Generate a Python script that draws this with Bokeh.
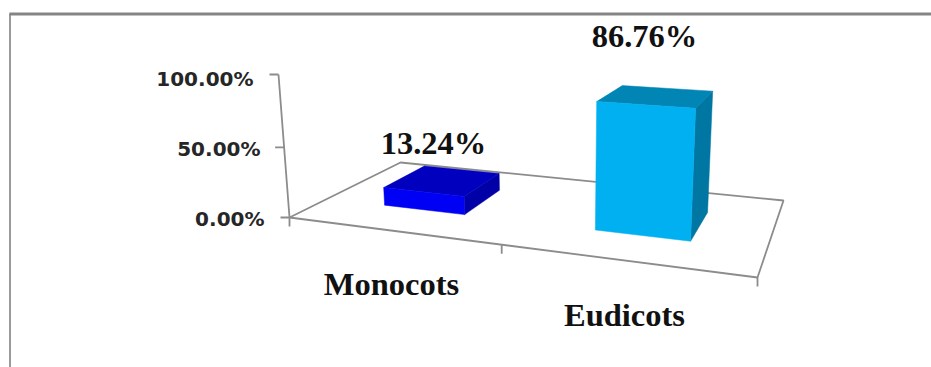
from bokeh.embed import file_html
from bokeh.models import ColumnDataSource, Range1d
from bokeh.plotting import figure
from bokeh.resources import INLINE
from bokeh.core.properties import value

# Chart content
categories = ["Monocots", "Eudicots"]
percentages = [13.24, 86.76]
axis_values = [0, 50, 100]
front_colors = ["#0000F5", "#00B0F0"]
top_colors = ["#0000BE", "#0085B5"]
side_colors = ["#0000A6", "#0076A3"]

# Page and scene layout, in screen pixels
WIDTH, HEIGHT = 931, 367
FLOOR = [(289, 217), (757, 277), (783, 200), (400, 162)]  # front-left, front-right, back-right, back-left
VERTICAL_VANISH = (559, 3726)
HEIGHT_GAIN = -0.0003916
BAR_WIDTH = 0.2
BAR_DEPTH = (0.30, 0.70)
VALUE_LABEL_POS = [(433, 142), (644, 35)]
CATEGORY_LABEL_POS = [(391, 283), (624, 314)]
AXIS_LABEL_RIGHT = {0: 264, 50: 260, 100: 253}
AXIS_LABEL_Y = {0: 218, 50: 148, 100: 78}
LINE_GREY = "#8c8c8c"


def floor_matrix(quad):
    """Unit square to quadrilateral homography."""
    (x0, y0), (x1, y1), (x2, y2), (x3, y3) = quad
    sx, sy = x0 - x1 + x2 - x3, y0 - y1 + y2 - y3
    dx1, dx2, dy1, dy2 = x1 - x2, x3 - x2, y1 - y2, y3 - y2
    den = dx1 * dy2 - dx2 * dy1
    g = (sx * dy2 - dx2 * sy) / den
    h = (dx1 * sy - sx * dy1) / den
    return (x1 - x0 + g * x1, x3 - x0 + h * x3, x0,
            y1 - y0 + g * y1, y3 - y0 + h * y3, y0, g, h)


M = floor_matrix(FLOOR)


def project(u, v, w=0.0):
    """Scene position (across, depth, percentage) to screen pixels."""
    a, b, c, d, e, f, g, h = M
    k = w * HEIGHT_GAIN
    den = g * u + h * v + 1 + k
    return ((a * u + b * v + c + k * VERTICAL_VANISH[0]) / den,
            (d * u + e * v + f + k * VERTICAL_VANISH[1]) / den)


def polygon(points):
    pts = [project(*pt) for pt in points]
    return [pt[0] for pt in pts], [pt[1] for pt in pts]


p = figure(width=WIDTH, height=HEIGHT, output_backend="svg", toolbar_location=None,
           x_range=Range1d(0, WIDTH), y_range=Range1d(HEIGHT, 0),
           x_axis_type=None, y_axis_type=None, min_border=0,
           outline_line_color=None, background_fill_color="white", border_fill_color="white")
p.grid.visible = False

# Outer frame, top and left edges only
p.line([9.5, 9.5], [HEIGHT, 13], line_color="#9a9a9a", line_width=2)
p.line([9, WIDTH], [13.5, 13.5], line_color="#858585", line_width=3)

# Floor outline
fx, fy = polygon([(0, 0), (1, 0), (1, 1), (0, 1), (0, 0)])
p.line(fx, fy, line_color=LINE_GREY, line_width=1.8)

# Value axis with its ticks and labels
ax, ay = polygon([(0, 0, w) for w in axis_values])
p.line(ax, ay, line_color=LINE_GREY, line_width=1.8)
p.segment([x - 9 for x in ax], ay, ax, ay, line_color=LINE_GREY, line_width=1.8)
p.text([AXIS_LABEL_RIGHT[w] for w in axis_values], [AXIS_LABEL_Y[w] for w in axis_values],
       text=[f"{w:.2f}%" for w in axis_values], text_font=value("DejaVu Sans"),
       text_font_style="bold", text_font_size="20px", text_color="#262626",
       text_align="right", text_baseline="middle")

# Category ticks drop from the front floor edge
tick_u = [i / len(categories) for i in range(len(categories) + 1)]
tx, ty = polygon([(u, 0) for u in tick_u])
p.segment(tx, ty, tx, [y + 9 for y in ty], line_color=LINE_GREY, line_width=1.8)

# Bars: side, top and front faces
for i, pct in enumerate(percentages):
    centre = (i + 0.5) / len(categories)
    u0, u1 = centre - BAR_WIDTH / 2, centre + BAR_WIDTH / 2
    v0, v1 = BAR_DEPTH
    faces = [
        ([(u1, v0, 0), (u1, v1, 0), (u1, v1, pct), (u1, v0, pct)], side_colors[i]),
        ([(u0, v0, pct), (u1, v0, pct), (u1, v1, pct), (u0, v1, pct)], top_colors[i]),
        ([(u0, v0, 0), (u1, v0, 0), (u1, v0, pct), (u0, v0, pct)], front_colors[i]),
    ]
    for points, color in faces:
        xs, ys = polygon(points)
        p.patch(xs, ys, fill_color=color, line_color=color, line_width=0.5)

# Serif labels for values and categories
labels = ColumnDataSource(dict(
    x=[pos[0] for pos in VALUE_LABEL_POS] + [pos[0] for pos in CATEGORY_LABEL_POS],
    y=[pos[1] for pos in VALUE_LABEL_POS] + [pos[1] for pos in CATEGORY_LABEL_POS],
    text=[f"{pct:.2f}%" for pct in percentages] + categories,
))
p.text("x", "y", text="text", source=labels, text_font=value("Liberation Serif"),
       text_font_style="bold", text_font_size="32.5px", text_color="#111111",
       text_align="center", text_baseline="middle")

open("out.html", "w").write(file_html(p, INLINE))
